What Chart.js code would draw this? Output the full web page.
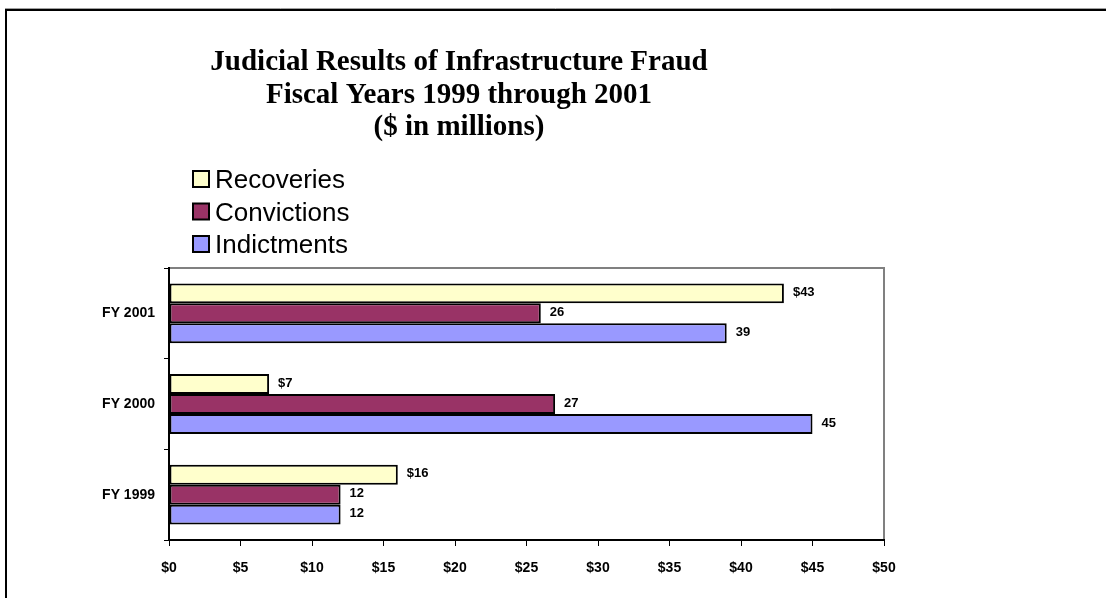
<!DOCTYPE html>
<html>
<head>
<meta charset="utf-8">
<script src="https://cdn.jsdelivr.net/npm/chart.js@4.4.1/dist/chart.umd.min.js"></script>
<style>
html,body{margin:0;padding:0;background:#fff;}
#wrap{position:relative;width:1106px;height:598px;}
canvas{display:block;}
</style>
</head>
<body>
<div id="wrap"><canvas id="c" width="1106" height="598"></canvas></div>
<script>
// ---- data ----
const categories = ['FY 2001', 'FY 2000', 'FY 1999'];
const recoveries = [43, 7, 16];
const convictions = [26, 27, 12];
const indictments = [39, 45, 12];
const seriesNames = ['Recoveries', 'Convictions', 'Indictments'];
const xTickLabels = ['$0','$5','$10','$15','$20','$25','$30','$35','$40','$45','$50'];
const titleLines = ['Judicial Results of Infrastructure Fraud', 'Fiscal Years 1999 through 2001', '($ in millions)'];
const labelPrefixes = ['$', '', ''];

// ---- styles ----
const colors = ['#FFFFCC', '#993366', '#9999FF'];
const SANS = '"Liberation Sans", Arial, sans-serif';
const SERIF = '"Liberation Serif", "Times New Roman", serif';

const decor = {
  id: 'decor',
  beforeDraw(chart) {
    const ctx = chart.ctx;
    ctx.save();
    ctx.fillStyle = '#fff';
    ctx.fillRect(0, 0, chart.width, chart.height);
    // outer frame (top & left)
    ctx.strokeStyle = '#a0a0a0';
    ctx.lineWidth = 1;
    ctx.beginPath(); ctx.moveTo(5, 8.5); ctx.lineTo(chart.width, 8.5); ctx.stroke();
    ctx.strokeStyle = '#000';
    ctx.lineWidth = 2;
    ctx.beginPath(); ctx.moveTo(chart.width, 10); ctx.lineTo(6, 10); ctx.lineTo(6, chart.height); ctx.stroke();
    // plot area frame
    const a = chart.chartArea;
    ctx.strokeStyle = '#808080';
    ctx.lineWidth = 2;
    ctx.strokeRect(a.left, a.top, a.right - a.left, a.bottom - a.top);
    ctx.restore();
  },
  afterDraw(chart) {
    const ctx = chart.ctx;
    ctx.save();
    // title
    ctx.fillStyle = '#000';
    ctx.font = 'bold 29px ' + SERIF;
    ctx.textAlign = 'center';
    ctx.textBaseline = 'alphabetic';
    titleLines.forEach((t, i) => ctx.fillText(t, 459, 70 + i * 32.5));
    // legend
    ctx.font = '26px ' + SANS;
    ctx.textAlign = 'left';
    chart.data.datasets.forEach((ds, i) => {
      const base = 188 + i * 32.5;
      ctx.fillStyle = ds.backgroundColor;
      ctx.fillRect(193, base - 17, 16, 16);
      ctx.strokeStyle = '#000';
      ctx.lineWidth = 2;
      ctx.strokeRect(193, base - 17, 16, 16);
      ctx.fillStyle = '#000';
      ctx.fillText(ds.label, 215, base);
    });
    ctx.restore();
  },
  afterDatasetsDraw(chart) {
    const ctx = chart.ctx;
    ctx.save();
    ctx.fillStyle = '#000';
    ctx.font = 'bold 13px ' + SANS;
    ctx.textAlign = 'left';
    ctx.textBaseline = 'middle';
    chart.data.datasets.forEach((ds, di) => {
      chart.getDatasetMeta(di).data.forEach((el, i) => {
        ctx.fillText(labelPrefixes[di] + ds.data[i], el.x + 9, el.y - 1);
      });
    });
    ctx.restore();
  }
};

const seriesData = [recoveries, convictions, indictments];
new Chart(document.getElementById('c'), {
  type: 'bar',
  data: {
    labels: categories,
    datasets: seriesNames.map((n, i) => ({
      label: n,
      data: seriesData[i],
      backgroundColor: colors[i],
      borderColor: '#000',
      borderWidth: 2,
      borderSkipped: false,
      barPercentage: 1,
      categoryPercentage: 0.66
    }))
  },
  options: {
    indexAxis: 'y',
    responsive: false,
    animation: false,
    devicePixelRatio: 1,
    layout: { padding: { left: 0, top: 268, right: 222, bottom: 0 } },
    plugins: { legend: { display: false }, title: { display: false }, tooltip: { enabled: false } },
    scales: {
      x: {
        min: 0, max: 50,
        ticks: {
          stepSize: 5,
          color: '#000',
          font: { family: SANS, weight: 'bold', size: 14 },
          padding: 14,
          callback: (v, i) => xTickLabels[i]
        },
        grid: { drawOnChartArea: false, drawTicks: true, tickLength: 6, color: '#000', lineWidth: 1 },
        border: { color: '#000', width: 2 },
        afterFit(s) { s.height = 58; }
      },
      y: {
        ticks: { color: '#000', font: { family: SANS, weight: 'bold', size: 14 }, padding: 9 },
        grid: { offset: true, drawOnChartArea: false, drawTicks: true, tickLength: 5, color: '#000', lineWidth: 1 },
        border: { color: '#000', width: 2 },
        afterFit(s) { s.width = 169; }
      }
    }
  },
  plugins: [decor]
});
</script>
</body>
</html>
